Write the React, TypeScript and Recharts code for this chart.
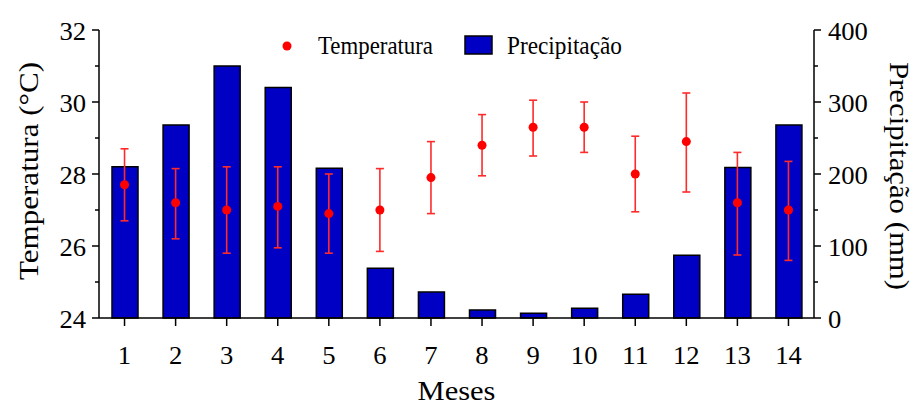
import React from "react";
import { ComposedChart, Bar, Scatter, ErrorBar, XAxis, YAxis } from "recharts";

const months = ["1", "2", "3", "4", "5", "6", "7", "8", "9", "10", "11", "12", "13", "14"];
const precipitation = [210, 268, 350, 320, 208, 69, 36, 11, 6.5, 13.5, 33, 87, 209, 268];
const temperature = [27.7, 27.2, 27.0, 27.1, 26.9, 27.0, 27.9, 28.8, 29.3, 29.3, 28.0, 28.9, 27.2, 27.0];
const tempErrLow = [1.0, 1.0, 1.2, 1.15, 1.1, 1.15, 1.0, 0.85, 0.8, 0.7, 1.05, 1.4, 1.45, 1.4];
const tempErrHigh = [1.0, 0.95, 1.2, 1.1, 1.1, 1.15, 1.0, 0.85, 0.75, 0.7, 1.05, 1.35, 1.4, 1.35];
const tempTicks = [24, 25, 26, 27, 28, 29, 30, 31, 32];
const precTicks = [0, 50, 100, 150, 200, 250, 300, 350, 400];

const data = months.map((m, i) => ({
  mes: m,
  prec: precipitation[i],
  temp: temperature[i],
  tempErr: [tempErrLow[i], tempErrHigh[i]],
}));

const FONT = "Liberation Serif";
const BAR_BLUE = "#0000c4";
const DIGIT_W = 13.3;

const LeftTick = (props: any) => {
  const { x, y, payload } = props;
  const major = payload.value % 2 === 0;
  const label = String(payload.value);
  return (
    <g>
      <line x1={x} x2={x - (major ? 7 : 4)} y1={y} y2={y} stroke="#000" strokeWidth={1.5} />
      {major && (
        <text x={x - 13} y={y + 10} textAnchor="end" fontFamily={FONT} fontSize={25} fill="#000"
          textLength={label.length * DIGIT_W} lengthAdjust="spacingAndGlyphs">
          {label}
        </text>
      )}
    </g>
  );
};

const RightTick = (props: any) => {
  const { x, y, payload } = props;
  const major = payload.value % 100 === 0;
  const label = String(payload.value);
  return (
    <g>
      <line x1={x} x2={x + (major ? 7 : 4)} y1={y} y2={y} stroke="#000" strokeWidth={1.5} />
      {major && (
        <text x={x + 14} y={y + 10} textAnchor="start" fontFamily={FONT} fontSize={25} fill="#000"
          textLength={label.length * DIGIT_W} lengthAdjust="spacingAndGlyphs">
          {label}
        </text>
      )}
    </g>
  );
};

const BottomTick = (props: any) => {
  const { x, y, payload } = props;
  const label = String(payload.value);
  return (
    <g>
      <line x1={x} x2={x} y1={y} y2={y + 8} stroke="#000" strokeWidth={1.5} />
      <text x={x} y={y + 46} textAnchor="middle" fontFamily={FONT} fontSize={25} fill="#000"
        textLength={label.length * DIGIT_W} lengthAdjust="spacingAndGlyphs">
        {label}
      </text>
    </g>
  );
};

const App: React.FC = () => {
  return (
    <div style={{ position: "absolute", left: 0, top: 0, width: 914, height: 408, background: "#fff" }}>
      <ComposedChart width={914} height={408} data={data} margin={{ top: 30, right: 0, bottom: 0, left: 0 }}>
        <XAxis
          dataKey="mes"
          type="category"
          height={90}
          tickSize={0}
          tickMargin={0}
          tickLine={false}
          interval={0}
          axisLine={{ stroke: "#000", strokeWidth: 1.5 }}
          tick={<BottomTick />}
        />
        <YAxis
          yAxisId="t"
          orientation="left"
          width={99}
          domain={[24, 32]}
          ticks={tempTicks}
          interval={0}
          tickSize={0}
          tickMargin={0}
          tickLine={false}
          axisLine={{ stroke: "#000", strokeWidth: 1.5 }}
          tick={<LeftTick />}
        />
        <YAxis
          yAxisId="p"
          orientation="right"
          width={100}
          domain={[0, 400]}
          ticks={precTicks}
          interval={0}
          tickSize={0}
          tickMargin={0}
          tickLine={false}
          axisLine={{ stroke: "#000", strokeWidth: 1.5 }}
          tick={<RightTick />}
        />
        <Bar yAxisId="p" dataKey="prec" barSize={26} fill={BAR_BLUE} stroke="#000" strokeWidth={1.5}
          isAnimationActive={false} />
        <Scatter yAxisId="t" dataKey="temp" fill="#ff0000" isAnimationActive={false}>
          <ErrorBar dataKey="tempErr" direction="y" width={4} stroke="#ff2a2a" strokeWidth={1.6} />
        </Scatter>
      </ComposedChart>
      {/* legend and axis titles */}
      <div style={{ position: "absolute", left: 0, top: 0, pointerEvents: "none" }}>
        <svg width={914} height={408}>
          <circle cx={287} cy={46} r={4.5} fill="#ff0000" />
          <text x={318} y={54} fontFamily={FONT} fontSize={25} fill="#000" textLength={115}
            lengthAdjust="spacingAndGlyphs">
            Temperatura
          </text>
          <rect x={465} y={36} width={27} height={18} fill={BAR_BLUE} stroke="#000" strokeWidth={1.5} />
          <text x={507} y={54} fontFamily={FONT} fontSize={25} fill="#000" textLength={115}
            lengthAdjust="spacingAndGlyphs">
            Precipitação
          </text>
          <text x={456.5} y={400} textAnchor="middle" fontFamily={FONT} fontSize={27} fill="#000"
            textLength={78} lengthAdjust="spacingAndGlyphs">
            Meses
          </text>
          <text transform="translate(38,171) rotate(-90)" textAnchor="middle" fontFamily={FONT} fontSize={28}
            fill="#000" textLength={218} lengthAdjust="spacingAndGlyphs">
            Temperatura (°C)
          </text>
          <text transform="translate(890,176) rotate(90)" textAnchor="middle" fontFamily={FONT} fontSize={28}
            fill="#000" textLength={228} lengthAdjust="spacingAndGlyphs">
            Precipitação (mm)
          </text>
        </svg>
      </div>
    </div>
  );
};

export default App;
